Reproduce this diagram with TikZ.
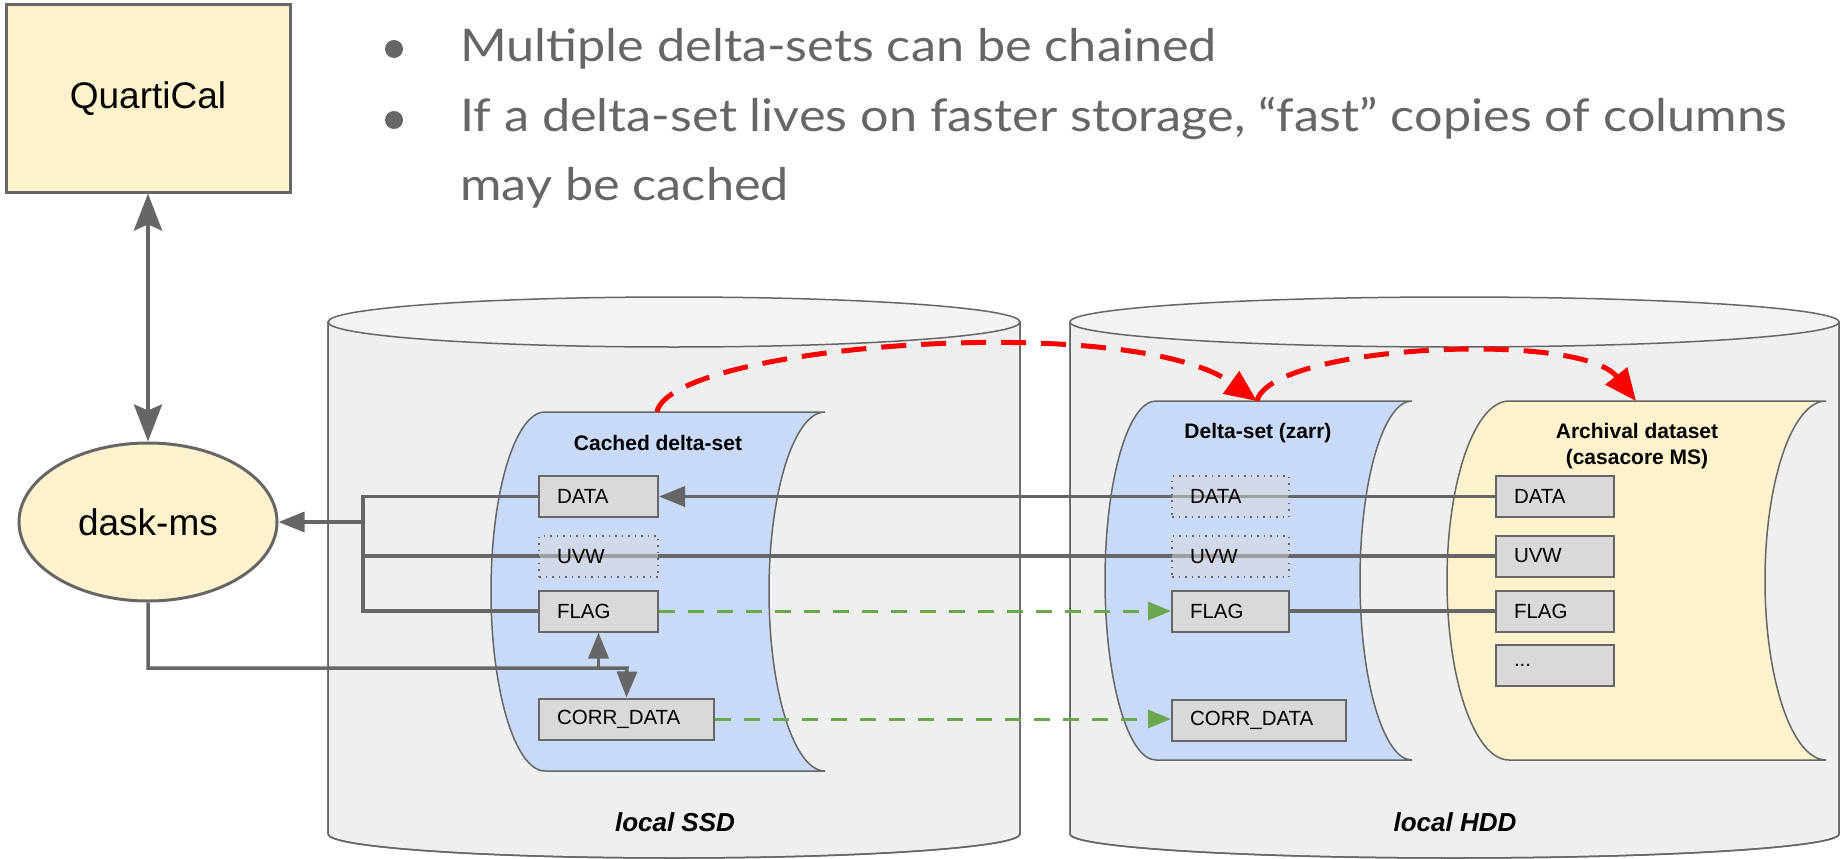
\documentclass[tikz,border=0pt]{standalone}
\usepackage{fontspec}
\setmainfont{Liberation Sans}
\newfontfamily\latofont[FakeStretch=1.12]{Lato}
\usetikzlibrary{arrows.meta,shapes.geometric,calc}
\definecolor{lgray}{HTML}{666666}
\definecolor{boxfill}{HTML}{D9D9D9}
\definecolor{cylbody}{HTML}{EFEFEF}
\definecolor{cyltop}{HTML}{F3F3F3}
\definecolor{tapeblue}{HTML}{C9DAF8}
\definecolor{tapeyellow}{HTML}{FFF2CC}
\definecolor{arrowred}{HTML}{FF0000}
\definecolor{arrowgreen}{HTML}{6AA84F}
\definecolor{bullettext}{HTML}{666666}
\begin{document}
\begin{tikzpicture}[x=1pt,y=-1pt,
  cylstyle/.style={draw=lgray, line width=1.5pt},
  tapestyle/.style={draw=lgray, line width=1.5pt},
  colbox/.style={draw=lgray, line width=2pt, fill=boxfill, minimum height=41pt,
     inner xsep=18pt, inner ysep=0pt, text width=#1, align=left,
     font={\fontsize{20.5}{24}\selectfont}},
  ghostbox/.style={colbox=#1, draw=lgray, dash pattern=on 1.5pt off 5pt, line width=2pt,
     fill=boxfill, fill opacity=0.5, text opacity=1},
  titletext/.style={font={\fontsize{21}{26}\selectfont\bfseries}, align=center, inner sep=0pt},
  disklabel/.style={font={\fontsize{26}{30}\selectfont\bfseries\itshape}, inner sep=0pt},
  conn/.style={draw=lgray, line width=3.5pt, line join=miter},
  graytip/.style={-{Triangle[length=26pt,width=20pt]}},
  redarrow/.style={draw=arrowred, line width=5pt, dash pattern=on 25pt off 15pt,
     -{Triangle[length=32pt,width=27pt]}},
  greenarrow/.style={draw=arrowgreen, line width=3pt, dash pattern=on 16pt off 13pt,
     -{Triangle[length=23pt,width=18pt]}},
  bullettxt/.style={anchor=base west, inner sep=0pt, text=bullettext,
     font={\latofont\fontsize{45}{54}\selectfont}}
]
\useasboundingbox (0,0) rectangle (1845,859);

% ---------- bullet text ----------
\fill[bullettext] (394,49) circle[radius=9];
\fill[bullettext] (394,120) circle[radius=9];
\node[bullettxt] (b1) at (460,62) {Multiple delta-sets can be chained};
\node[bullettxt] (b2) at (460,131) {If a delta-set lives on faster storage, “fast” copies of columns};
\node[bullettxt] (b3) at (460,200) {may be cached};

% ---------- cylinders ----------
\path[cylstyle, fill=cylbody] (328,322) -- (328,834)
   arc[start angle=180, end angle=0, x radius=346, y radius=24] -- (1020,322) -- cycle;
\draw[cylstyle] (328,322) -- (328,834)
   arc[start angle=180, end angle=0, x radius=346, y radius=24] -- (1020,322);
\draw[cylstyle, fill=cyltop] (674,322) ellipse[x radius=346, y radius=25];

\path[cylstyle, fill=cylbody] (1070,322) -- (1070,834)
   arc[start angle=180, end angle=0, x radius=384.5, y radius=24] -- (1839,322) -- cycle;
\draw[cylstyle] (1070,322) -- (1070,834)
   arc[start angle=180, end angle=0, x radius=384.5, y radius=24] -- (1839,322);
\draw[cylstyle, fill=cyltop] (1454.5,322) ellipse[x radius=384.5, y radius=25];

\node[disklabel] (ssd) at (675,822) {local SSD};
\node[disklabel] (hdd) at (1455,822) {local HDD};

% ---------- tapes (stored data shapes) ----------
\draw[tapestyle, fill=tapeblue] (545,412) -- (825,412)
   arc[start angle=270, end angle=90, x radius=56, y radius=179.5] -- (545,771)
   arc[start angle=90, end angle=270, x radius=54, y radius=179.5] -- cycle;
\draw[tapestyle, fill=tapeblue] (1156,401) -- (1412,401)
   arc[start angle=270, end angle=90, x radius=52, y radius=179.5] -- (1156,760)
   arc[start angle=90, end angle=270, x radius=51, y radius=179.5] -- cycle;
\draw[tapestyle, fill=tapeyellow] (1509,401) -- (1826,401)
   arc[start angle=270, end angle=90, x radius=61, y radius=179.5] -- (1509,760)
   arc[start angle=90, end angle=270, x radius=62, y radius=179.5] -- cycle;

\coordinate (cTop) at (657,412);
\coordinate (dTop) at (1257,401);
\coordinate (aTop) at (1636,401);

\node[titletext] (cTitle) at (658,443) {Cached delta-set};
\node[titletext] (dTitle) at (1258,433) {Delta-set (zarr)};
\node[titletext] (aTitle) at (1637,446) {Archival dataset\\(casacore MS)};

% ---------- main nodes ----------
\node[draw=lgray, line width=3pt, fill=tapeyellow, minimum width=284pt, minimum height=187pt,
      font={\fontsize{37}{44}\selectfont}] (quart) at (148,98.5) {QuartiCal};
\node[ellipse, draw=lgray, line width=3pt, fill=tapeyellow, minimum width=258pt, minimum height=158pt,
      inner sep=0pt, font={\fontsize{37}{44}\selectfont}] (dask) at (148,522) {dask-ms};

% ---------- coordinates for connectors ----------
\coordinate (bus) at (363,522);
\coordinate (bend) at (627,668);

% archival boxes
\node[colbox=82pt] (aData) at (1555,496.5) {DATA};
\node[colbox=82pt] (aUvw) at (1555,556) {UVW};
\node[colbox=82pt] (aFlag) at (1555,611) {FLAG};
\node[colbox=82pt] (aDots) at (1555,665.5) {...};

% cached solid boxes
\node[colbox=83pt] (cData) at (598.5,496.5) {DATA};
\node[colbox=83pt] (cFlag) at (598.5,611) {FLAG};
\node[colbox=139pt] (cCorr) at (626.5,719) {CORR\_DATA};

% delta solid boxes
\node[colbox=81pt] (dFlag) at (1230.5,611) {FLAG};
\node[colbox=138pt] (dCorr) at (1259,720.5) {CORR\_DATA};

% ---------- gray connectors ----------
\draw[conn, graytip] (aData.west) -- (cData.east);
\draw[conn] (aUvw.west) -- (aUvw.west -| bus);
\draw[conn] (dFlag.east) -- (aFlag.west);
\draw[conn] (cData.west) -- (cData.west -| bus) -- (cFlag.west -| bus) -- (cFlag.west);
\draw[conn, graytip] (bus) -- (dask.east);
\draw[conn, graytip] (dask.south) |- (bend) -- (cCorr.north);
\draw[conn, graytip] (cFlag.south |- bend) -- (cFlag.south);
\draw[draw=lgray, line width=4pt, {Stealth[length=37pt,width=28pt,inset=6pt]}-{Stealth[length=37pt,width=28pt,inset=6pt]}]
   (quart.south) -- (dask.north);

% ---------- ghost boxes (drawn over lines) ----------
\node[ghostbox=83pt] (cUvw) at (598.5,556.5) {UVW};
\node[ghostbox=81pt] (dData) at (1230.5,496.5) {DATA};
\node[ghostbox=81pt] (dUvw) at (1230.5,556.5) {UVW};

% ---------- green dashed ----------
\draw[greenarrow] (cFlag.east) -- (dFlag.west);
\draw[greenarrow] (cCorr.east) -- (cCorr.east -| dCorr.west);

% ---------- red dashed ----------
\draw[redarrow] (cTop) .. controls (670,345) and (1130,310) .. (dTop);
\draw[redarrow] (dTop) .. controls (1270,345) and (1580,330) .. (aTop);
\end{tikzpicture}
\end{document}
